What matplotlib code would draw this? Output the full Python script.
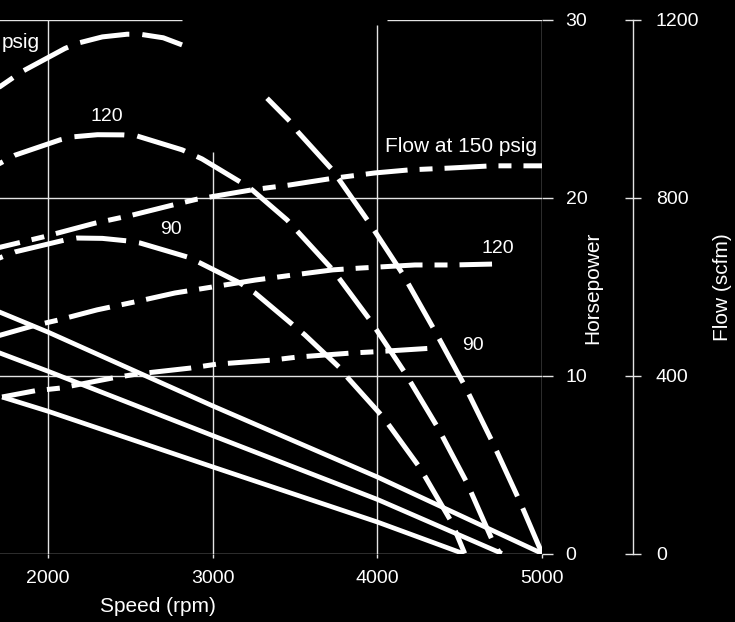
import matplotlib
matplotlib.use("Agg")
import matplotlib.pyplot as plt

plt.rcParams['font.family'] = ['Liberation Sans', 'DejaVu Sans']

# ---------------- data ----------------
# Horsepower curves (long dashes), HP vs speed (rpm)
hp150_rpm_a = [1700, 1842, 2103, 2182, 2330, 2480, 2559, 2700, 2814]
hp150_a = [26.2, 27.1, 28.4, 28.7, 29.05, 29.2, 29.2, 29.0, 28.6]
hp150_rpm_b = [3330, 3469, 3518, 3724, 3943, 4155, 4350, 4532, 4702, 4866, 5000]
hp150_b = [25.6, 24.3, 23.7, 21.6, 18.7, 15.7, 12.5, 9.4, 6.2, 2.9, 0.0]

hp120_rpm = [1700, 1800, 2073, 2152, 2300, 2455, 2540, 2814, 2935, 3166, 3239,
             3451, 3518, 3730, 3955, 4168, 4368, 4544, 4702, 4745]
hp120 = [21.9, 22.4, 23.26, 23.43, 23.55, 23.54, 23.48, 22.7, 22.19, 20.9, 20.45,
         18.76, 18.08, 15.94, 13.13, 10.15, 7.06, 3.97, 0.65, 0.0]

hp90_rpm = [1700, 1800, 2103, 2176, 2330, 2480, 2559, 2844, 2923, 3166, 3257,
            3488, 3560, 3773, 3821, 3985, 4034, 4259, 4453, 4530]
hp90 = [16.6, 16.96, 17.63, 17.74, 17.72, 17.58, 17.46, 16.68, 16.34, 15.21, 14.65,
        12.85, 12.29, 10.43, 9.87, 8.18, 7.68, 4.81, 1.72, 0.0]

# Flow curves (dash-dot), scfm vs speed (rpm)
flow150_rpm = [1700, 1970, 2285, 2510, 2759, 2905, 3239, 3469, 3712, 3985, 4198,
               4441, 4696, 5000]
flow150 = [688, 712, 743, 761, 784, 797, 818, 829, 843, 856, 863, 867, 872, 872]

flow120_rpm = [1700, 1909, 2061, 2298, 2528, 2771, 2923, 3257, 3500, 3730, 3894,
               4228, 4459, 4696]
flow120 = [490, 512, 525, 548, 566, 586, 595, 615, 627, 638, 642, 649, 649, 651]

flow90_rpm = [1721, 1921, 2073, 2395, 2546, 2862, 3026, 3360, 3518, 3846, 3998, 4338]
flow90 = [352, 366, 372, 395, 404, 417, 426, 435, 442, 451, 454, 462]

# Solid lines, HP vs speed (rpm)
solid_top_rpm = [1700, 2000, 3000, 4000, 5000]
solid_top = [13.6, 12.45, 8.3, 4.3, 0.0]
solid_mid_rpm = [1700, 2000, 3000, 4000, 4756]
solid_mid = [11.3, 10.25, 6.63, 3.04, 0.0]
solid_bot_rpm = [1721, 2000, 3000, 4000, 4520]
solid_bot = [8.8, 8.0, 4.87, 1.77, 0.0]

speed_ticks = [2000, 3000, 4000, 5000]
hp_ticks = [0, 10, 20, 30]
flow_ticks = [0, 400, 800, 1200]

FLOW_PER_HP = 40.0  # 1200 scfm <-> 30 hp on the paired axes

# ---------------- figure ----------------
W, H = 735, 622
fig = plt.figure(figsize=(W / 100, H / 100), dpi=100, facecolor='black')

px1000, px5000 = -116.7, 542.1
y0, y30 = 553.5, 20.0
ax = fig.add_axes([px1000 / W, (H - y0) / H, (px5000 - px1000) / W, (y0 - y30) / H])
ax.set_facecolor('black')
ax.set_xlim(1000, 5000)
ax.set_ylim(0, 30)
for s in ax.spines.values():
    s.set_visible(False)

grid_c = '#e4e4e4'
grid_lw = 1.0
# horizontal grid lines
ax.hlines([0, 10, 20], 1000, 5000, color=grid_c, lw=grid_lw, zorder=1)
ax.hlines([30, 30], [1000, 4058], [2814, 5000], color=grid_c, lw=grid_lw, zorder=1)
# vertical grid lines
ax.vlines([2000, 3000, 4000, 5000], 0, [30, 22.6, 29.7, 30], color=grid_c, lw=grid_lw, zorder=1)

LW = 3.6
white = 'white'
HPD = (10, 2.6)
ax.plot(hp150_rpm_a, hp150_a, color=white, lw=LW, linestyle=(6.6, HPD))
ax.plot(hp150_rpm_b, hp150_b, color=white, lw=LW, linestyle=(3.6, HPD))
ax.plot(hp120_rpm, hp120, color=white, lw=LW, linestyle=(9.1, HPD))
ax.plot(hp90_rpm, hp90, color=white, lw=LW, linestyle=(9.2, HPD))

dd = (8.4, 2.4, 2.6, 2.4)
ax.plot(flow150_rpm, [f / FLOW_PER_HP for f in flow150], color=white, lw=LW, linestyle=(4.1, dd))
ax.plot(flow120_rpm, [f / FLOW_PER_HP for f in flow120], color=white, lw=LW, linestyle=(1.3, dd))
ax.plot(flow90_rpm, [f / FLOW_PER_HP for f in flow90], color=white, lw=LW, linestyle=(1.7, dd))

ax.plot(solid_top_rpm, solid_top, color=white, lw=3.4, solid_capstyle='butt')
ax.plot(solid_mid_rpm, solid_mid, color=white, lw=3.4, solid_capstyle='butt')
ax.plot(solid_bot_rpm, solid_bot, color=white, lw=3.4, solid_capstyle='butt')

FS = 15
NS = 14
fig.text(2 / W, 1 - 43 / H, 'psig', color=white, fontsize=FS, ha='left', va='center')
ax.text(2358, 24.6, '120', color=white, fontsize=NS, ha='center', va='center')
ax.text(2747, 18.2, '90', color=white, fontsize=NS, ha='center', va='center')
ax.text(4969, 22.9, 'Flow at 150 psig', color=white, fontsize=FS, ha='right', va='center')
ax.text(4732, 17.13, '120', color=white, fontsize=NS, ha='center', va='center')
ax.text(4580, 11.67, '90', color=white, fontsize=NS, ha='center', va='center')

# Flow axis (create first: twinx resets the HP ticks to the left)
ax2 = ax.twinx()
ax2.set_ylim(0, 30 * FLOW_PER_HP)
for k, s in ax2.spines.items():
    s.set_visible(k == 'right')
ax2.spines['right'].set_position(('axes', (633 - px1000) / (px5000 - px1000)))
ax2.spines['right'].set_color(grid_c)
ax2.spines['right'].set_linewidth(grid_lw)
ax2.set_yticks(flow_ticks)
ax2.set_yticklabels([str(t) for t in flow_ticks])
ax2.tick_params(axis='y', colors=grid_c, labelcolor=white, length=11, width=grid_lw,
                direction='inout', pad=11, labelsize=NS)

# x axis ticks
ax.set_xticks(speed_ticks)
ax.set_xticklabels([str(t) for t in speed_ticks])
ax.tick_params(axis='x', colors=grid_c, labelcolor=white, length=3, width=grid_lw,
               direction='out', pad=9, labelsize=NS)
# HP axis on right
ax.set_yticks(hp_ticks)
ax.set_yticklabels([str(t) for t in hp_ticks])
ax.yaxis.tick_right()
ax.tick_params(axis='y', which='both', left=False, labelleft=False, right=True, labelright=True,
               colors=grid_c, labelcolor=white, length=8, width=grid_lw,
               direction='out', pad=9, labelsize=NS)

fig.text(158 / W, 1 - 607 / H, 'Speed (rpm)', color=white, fontsize=FS, ha='center', va='center')
fig.text(593 / W, 1 - 288 / H, 'Horsepower', color=white, fontsize=FS, ha='center', va='center',
         rotation=90)
fig.text(722 / W, 1 - 287 / H, 'Flow (scfm)', color=white, fontsize=FS, ha='center', va='center',
         rotation=90)

fig.savefig('out.png', dpi=100, facecolor='black')
